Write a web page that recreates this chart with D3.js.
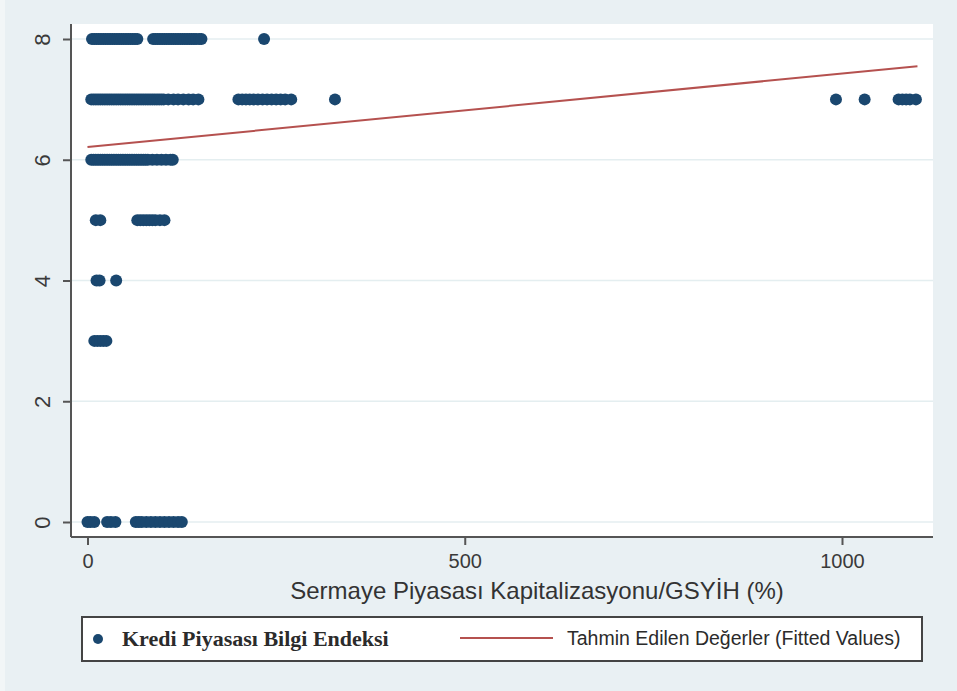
<!DOCTYPE html>
<html><head><meta charset="utf-8">
<script src="https://cdn.jsdelivr.net/npm/d3@7"></script>
<style>html,body{margin:0;padding:0;background:#e9f0f3;}svg{display:block;}</style>
</head><body>
<svg id="c" width="957" height="691"></svg>
<script>
// ---- data ----
const yTicks = [0, 2, 4, 6, 8];
const xTicks = [0, 500, 1000];
const level8 = [6,9,12,15,18,21,24,27,30,33,36,39,42,45,48,51,54,57,60,63,66,87,90,93,96,99,102,105,108,111,114,117,120,123,126,129,132,135,138,141,144,148,151,234];
const level7 = [5,8,11,14,17,20,23,26,29,32,35,38,41,44,47,50,53,56,59,62,65,68,71,74,77,80,83,86,89,92,95,98,101,107,114,120,127,134,140,147,200,205,210,215,220,226,232,238,244,250,256,262,270,328,992,1030,1075,1080,1085,1090,1098];
const level6 = [5,8,11,14,17,20,23,26,29,32,35,38,41,44,47,50,53,56,59,62,65,68,71,74,77,80,86,92,98,104,110,113];
const level5 = [11,17,66,70,74,78,82,86,90,96,102];
const level4 = [12,16,38];
const level3 = [9,13,17,21,25];
const level0 = [0,4,9,26,31,37,64,68,72,78,84,90,96,102,108,114,120,125];
const fittedX = [0, 1100];
const fittedY = [6.21, 7.55];
const xTitle = "Sermaye Piyasası Kapitalizasyonu/GSYİH (%)";
const legendLabels = ["Kredi Piyasası Bilgi Endeksi", "Tahmin Edilen Değerler (Fitted Values)"];

const levels = [[8, level8],[7, level7],[6, level6],[5, level5],[4, level4],[3, level3],[0, level0]];
const points = [];
levels.forEach(([y, xs]) => xs.forEach(x => points.push({x, y})));

const svg = d3.select("#c");
const W = 957, H = 691;
const plot = {l: 71, r: 933, t: 24, b: 537};

// background
svg.append("rect").attr("width", W).attr("height", H).attr("fill", "#e9f0f3");
svg.append("rect").attr("width", 5).attr("height", H).attr("fill", "#f2f6f7");
svg.append("rect").attr("x", plot.l).attr("y", plot.t).attr("width", plot.r - plot.l).attr("height", plot.b - plot.t).attr("fill", "#ffffff");

const x = d3.scaleLinear().domain([0, 1000]).range([87.5, 842]);
const y = d3.scaleLinear().domain([0, 8]).range([522, 39]);

// gridlines
svg.append("g").selectAll("line").data(yTicks).join("line")
  .attr("x1", plot.l).attr("x2", plot.r)
  .attr("y1", d => y(d)).attr("y2", d => y(d))
  .attr("stroke", "#e4eef0").attr("stroke-width", 1.5);

// axes
const yAxis = svg.append("g").attr("transform", `translate(${plot.l},0)`)
  .call(d3.axisLeft(y).tickValues(yTicks).tickSize(8).tickFormat(d3.format("d")));
yAxis.select(".domain").attr("d", `M0,${plot.t}V${plot.b}`);
const xAxis = svg.append("g").attr("transform", `translate(0,${plot.b})`)
  .call(d3.axisBottom(x).tickValues(xTicks).tickSize(8).tickPadding(6).tickFormat(d3.format("d")));
xAxis.select(".domain").attr("d", `M${plot.l},0H${plot.r}`);
[yAxis, xAxis].forEach(g => {
  g.select(".domain").attr("stroke", "#555").attr("stroke-width", 2);
  g.selectAll(".tick line").attr("stroke", "#555").attr("stroke-width", 2);
  g.selectAll(".tick text").attr("fill", "#3a3a3a").attr("font-family", "Liberation Sans, Arial, sans-serif").attr("font-size", 20);
});
yAxis.selectAll(".tick text")
  .attr("x", null).attr("dy", null)
  .attr("font-size", 22)
  .attr("text-anchor", "middle")
  .attr("transform", "translate(-21,0) rotate(-90) translate(0,0)");
xAxis.selectAll(".tick text").attr("dy", "0.85em");

// fitted line
svg.append("path")
  .datum(fittedX.map((d, i) => [d, fittedY[i]]))
  .attr("d", d3.line().x(d => x(d[0])).y(d => y(d[1])))
  .attr("fill", "none").attr("stroke", "#b5514f").attr("stroke-width", 2);

// points
svg.append("g").selectAll("circle").data(points).join("circle")
  .attr("cx", d => x(d.x)).attr("cy", d => y(d.y)).attr("r", 6)
  .attr("fill", "#1a476f");

// x title
svg.append("text").attr("x", 537).attr("y", 599).attr("text-anchor", "middle")
  .attr("font-family", "Liberation Sans, Arial, sans-serif").attr("font-size", 24)
  .attr("fill", "#333").text(xTitle);

// legend
const lg = svg.append("g");
lg.append("rect").attr("x", 82).attr("y", 617).attr("width", 840).attr("height", 44)
  .attr("fill", "#fff").attr("stroke", "#444").attr("stroke-width", 2);
lg.append("circle").attr("cx", 98).attr("cy", 639).attr("r", 5).attr("fill", "#1a476f");
lg.append("text").attr("x", 122).attr("y", 646)
  .attr("font-family", "Liberation Serif, Times New Roman, serif").attr("font-weight", "bold")
  .attr("font-size", 22).attr("fill", "#2b2b2b").text(legendLabels[0]);
lg.append("line").attr("x1", 460).attr("x2", 553).attr("y1", 638).attr("y2", 638)
  .attr("stroke", "#b5514f").attr("stroke-width", 2);
lg.append("text").attr("x", 567).attr("y", 645)
  .attr("font-family", "Liberation Sans, Arial, sans-serif")
  .attr("font-size", 19.5).attr("fill", "#2b2b2b").text(legendLabels[1]);
</script>
</body></html>
